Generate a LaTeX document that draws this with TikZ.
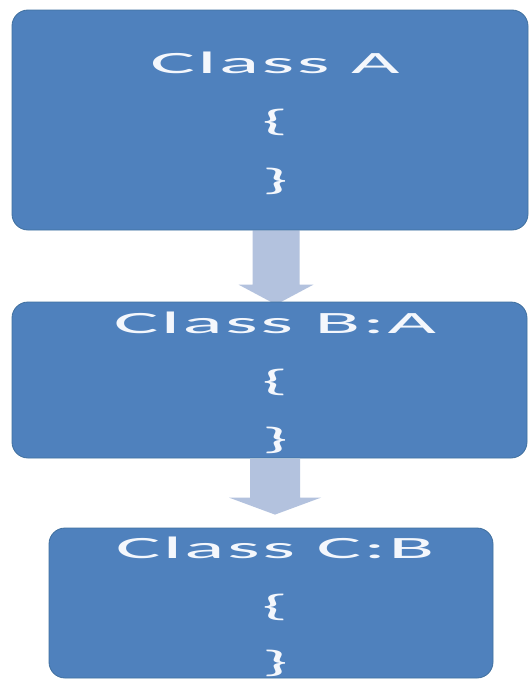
\documentclass[tikz,border=0pt]{standalone}
\usepackage{fontspec}
\newfontfamily\boxfont[LetterSpace=3]{Carlito}
\usetikzlibrary{calc,backgrounds}
\definecolor{boxblue}{HTML}{4F81BD}
\definecolor{boxedge}{HTML}{40709F}
\definecolor{arrowblue}{HTML}{B3C2DE}
\definecolor{txtwhite}{HTML}{F4F7FC}
\newcommand\stretchtxt[1]{\scalebox{2.7}[1]{#1}}
\tikzset{
  classbox/.style={draw=boxedge, line width=0.8pt, fill=boxblue, rectangle, rounded corners=16pt, inner sep=0pt},
  boxtext/.style={text=txtwhite, font=\boxfont\fontsize{31}{37}\selectfont, inner sep=0pt, anchor=base},
  flowarrow/.style={fill=arrowblue, draw=none}
}
\begin{document}
\begin{tikzpicture}[x=1pt,y=-1pt]
\useasboundingbox (0,0) rectangle (528,680);
% boxes
\node[classbox, minimum width=516pt, minimum height=220pt] (boxA) at (270,120) {};
\node[classbox, minimum width=515pt, minimum height=156pt] (boxB) at (269.5,380) {};
\node[classbox, minimum width=444pt, minimum height=150pt] (boxC) at (271,603) {};
% texts
\node[boxtext] (aT) at (275,73) {\stretchtxt{Class A}};
\node[boxtext] (aO) at (275,131) {\stretchtxt{\{}};
\node[boxtext] (aC) at (275,190) {\stretchtxt{\}}};
\node[boxtext] (bT) at (275,333) {\stretchtxt{Class B:A}};
\node[boxtext] (bO) at (275,391) {\stretchtxt{\{}};
\node[boxtext] (bC) at (275,449) {\stretchtxt{\}}};
\node[boxtext] (cT) at (275,558) {\stretchtxt{Class C:B}};
\node[boxtext] (cO) at (275,616) {\stretchtxt{\{}};
\node[boxtext] (cC) at (275,672) {\stretchtxt{\}}};
% arrows
\coordinate (ax1) at (276,0);
\coordinate (ax2) at (275,0);
\begin{scope}[on background layer]
\fill[white] (0,0) rectangle (528,680);
\coordinate (s1) at (boxA.south -| ax1);
\coordinate (t1) at ($(boxB.north -| ax1)+(0,3)$);
\fill[flowarrow] ($(s1)+(-23.5,0)$) -- ($(t1)+(-23.5,-20)$) -- ($(t1)+(-37.5,-20)$) -- (t1)
  -- ($(t1)+(37.5,-20)$) -- ($(t1)+(23.5,-20)$) -- ($(s1)+(23.5,0)$) -- cycle;
\end{scope}
\coordinate (s2) at (boxB.south -| ax2);
\coordinate (t2) at ($(boxC.north -| ax2)+(0,-13)$);
\fill[flowarrow] ($(s2)+(-25,0.5)$) -- ($(t2)+(-25,-17)$) -- ($(t2)+(-46,-17)$) -- (t2)
  -- ($(t2)+(46,-17)$) -- ($(t2)+(25,-17)$) -- ($(s2)+(25,0.5)$) -- cycle;
\end{tikzpicture}
\end{document}
